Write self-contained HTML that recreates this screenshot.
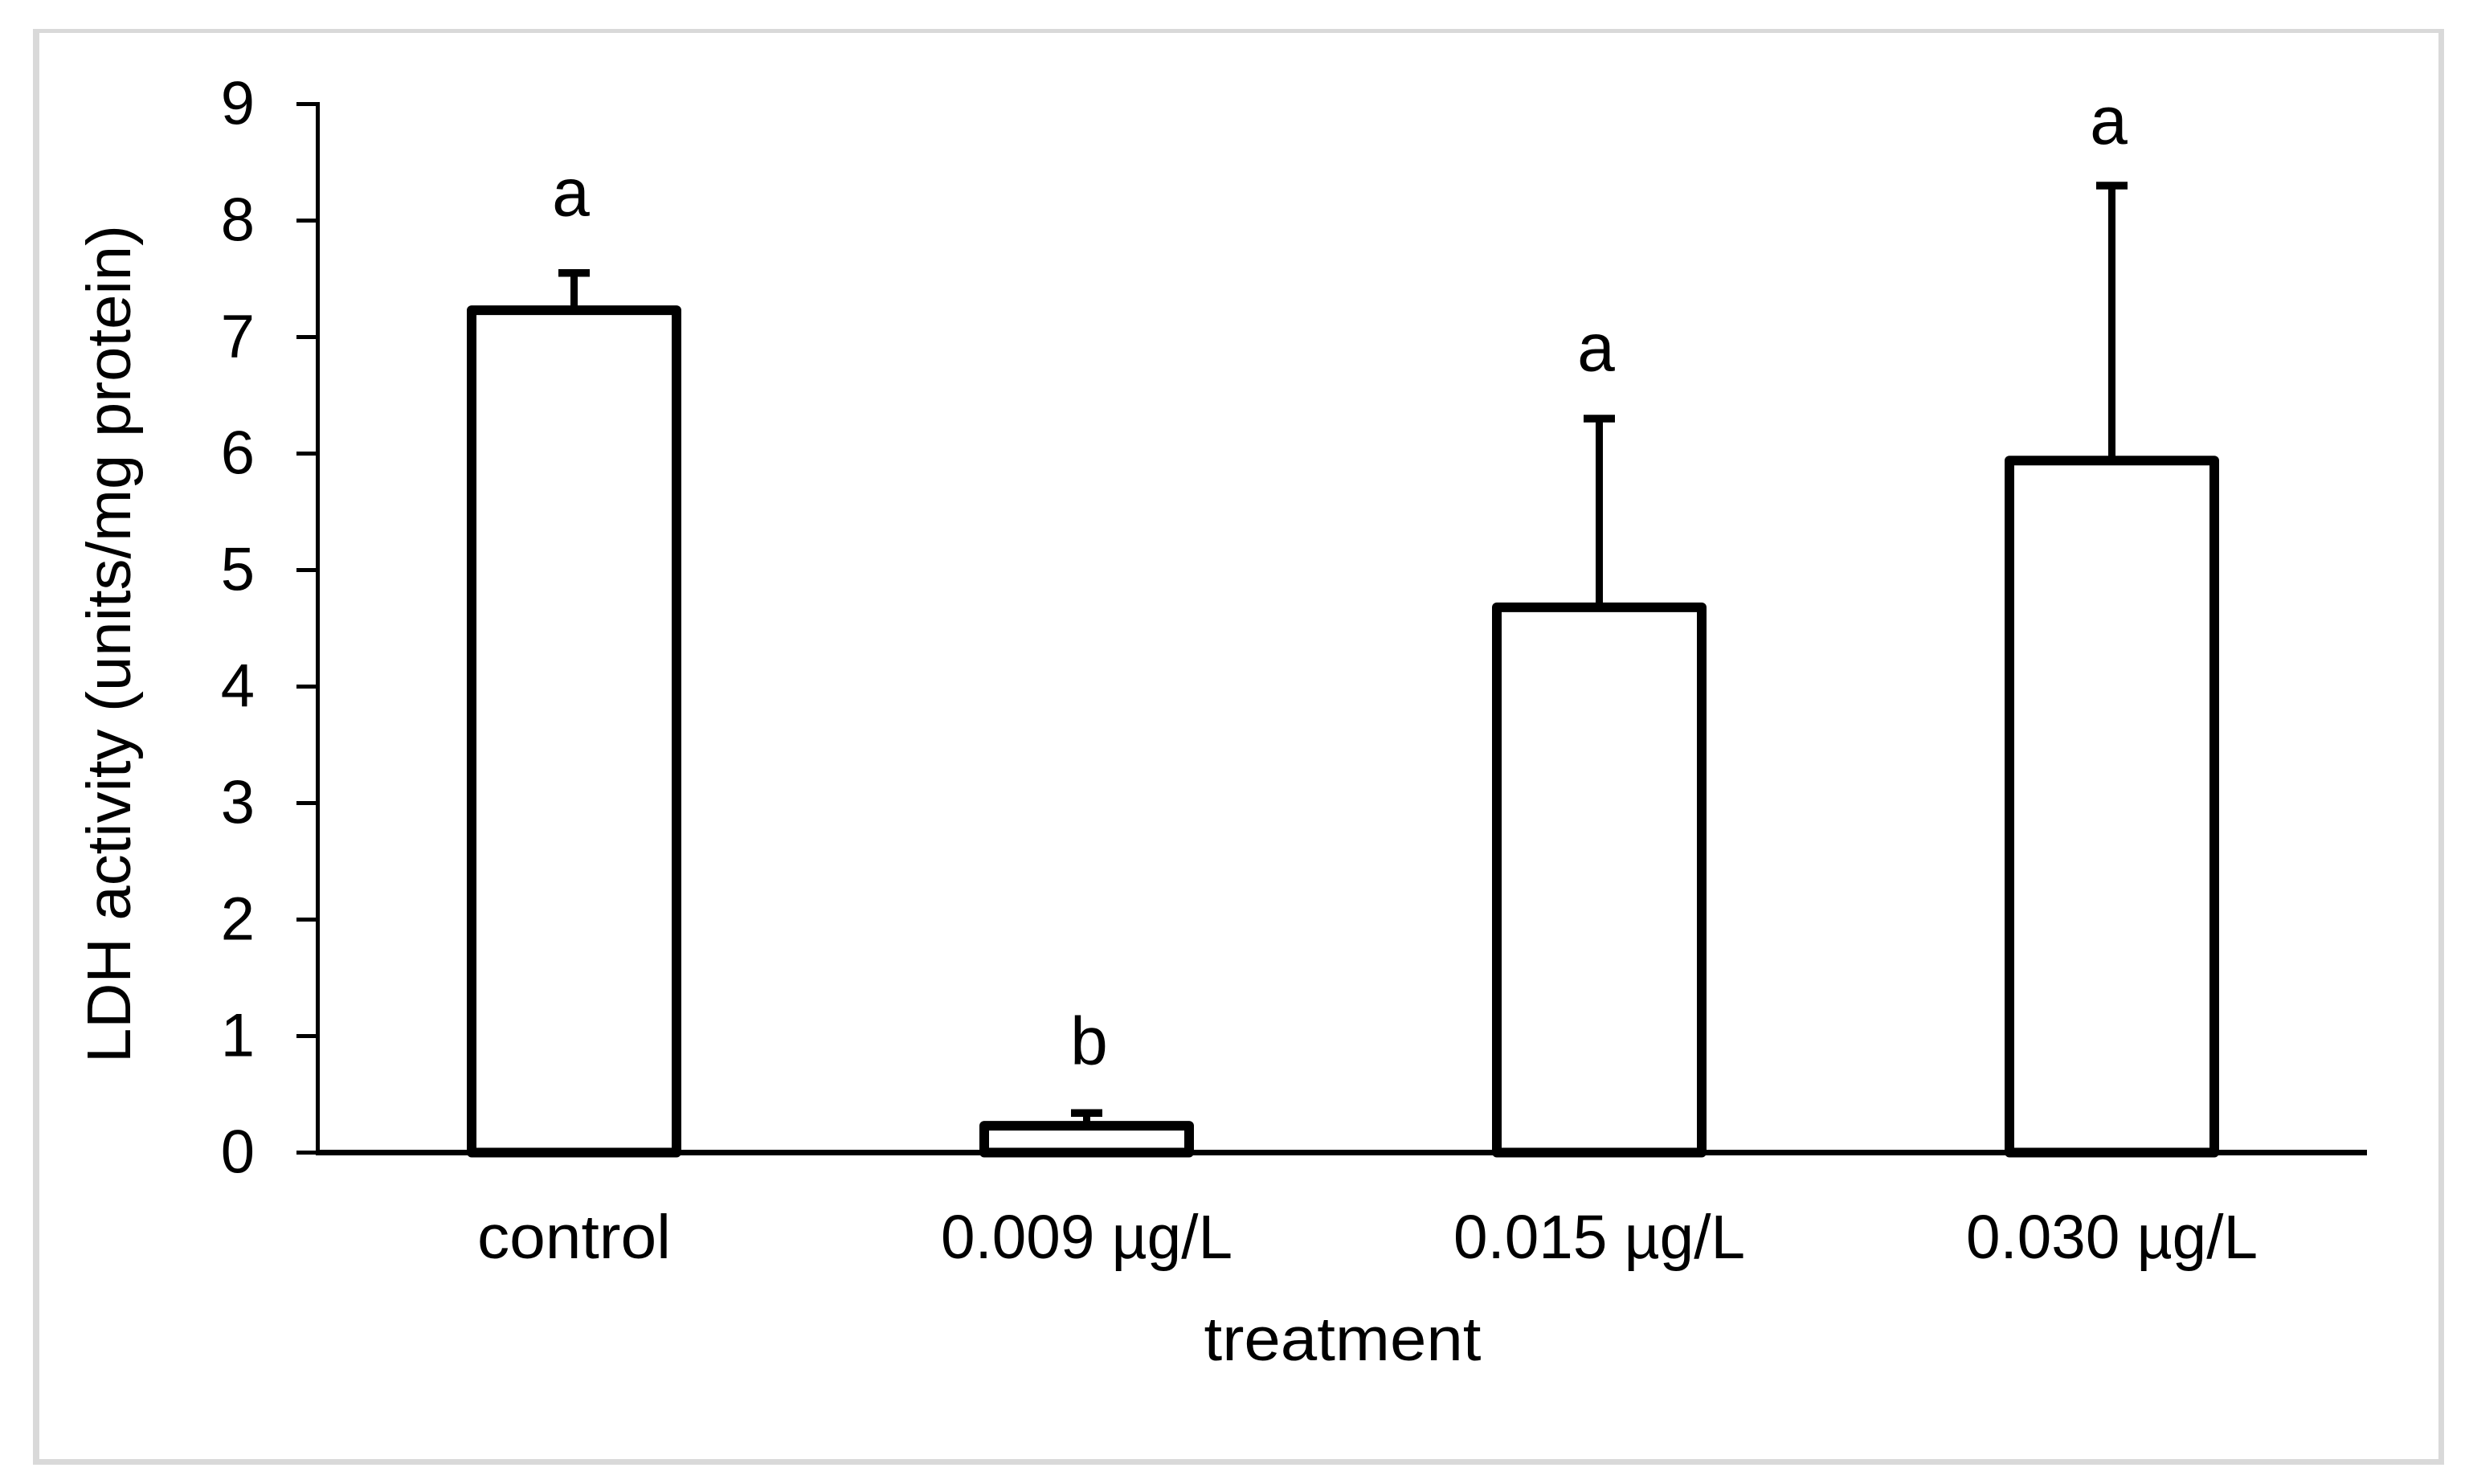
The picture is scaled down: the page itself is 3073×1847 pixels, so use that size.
<!DOCTYPE html>
<html lang="en">
<head>
<meta charset="utf-8">
<title>LDH activity by treatment</title>
<style>
  html, body { margin: 0; padding: 0; background: #ffffff; }
  svg { display: block; }
  text { font-family: "Liberation Sans", sans-serif; fill: #000000; }
</style>
</head>
<body>
<svg id="chart" xmlns="http://www.w3.org/2000/svg" width="3073" height="1847" viewBox="0 0 3073 1847">
  <rect x="0" y="0" width="3073" height="1847" fill="#ffffff"/>
  <path fill="#d9d9d9" fill-rule="evenodd" d="M41 36H3042V1823H41Z M49 41V1816H3035V41Z"/>
  <text transform="translate(162 1323) rotate(-90)" font-size="77" textLength="1043" lengthAdjust="spacingAndGlyphs">LDH activity (units/mg protein)</text>
  <text x="1671" y="1693" font-size="77" text-anchor="middle" textLength="345" lengthAdjust="spacingAndGlyphs">treatment</text>
  <g id="marks"></g>
</svg>
<script>
const categories = ["control", "0.009 µg/L", "0.015 µg/L", "0.030 µg/L"];
const means = [7.23, 0.23, 4.68, 5.94];
const errorTops = [7.55, 0.34, 6.30, 8.30];
const significance = ["a", "b", "a", "a"];
const significanceValues = [8.04, 0.76, 6.71, 8.66];
const yTicks = [0, 1, 2, 3, 4, 5, 6, 7, 8, 9];

const NS = "http://www.w3.org/2000/svg";
const marks = document.getElementById("marks");
const y = function (v) { return 1434.5 - v * 145; };
const x = function (i) { return 714.5 + i * 638; };

function shape(tag, attrs, parent) {
  const el = document.createElementNS(NS, tag);
  for (const k in attrs) el.setAttribute(k, attrs[k]);
  (parent || marks).appendChild(el);
  return el;
}

yTicks.forEach(function (t) {
  const tick = shape("line", { x1: 369, x2: 395, y1: y(t), y2: y(t), stroke: "#000", "stroke-width": 5 });
  
  
  const label = shape("text", { x: 317, y: y(t) + 25, "font-size": 76, "text-anchor": "end" });
  label.textContent = String(t);
  
  
});

const yAxis = shape("line", { x1: 395.5, x2: 395.5, y1: y(9) - 2.5, y2: y(0), stroke: "#000", "stroke-width": 5 });



const xAxis = shape("line", { x1: 393, x2: 2946, y1: y(0), y2: y(0), stroke: "#000", "stroke-width": 7 });



categories.forEach(function (c, i) {
  const cx = x(i);

  const stem = shape("line", { x1: cx, x2: cx, y1: y(errorTops[i]), y2: y(means[i]), stroke: "#000", "stroke-width": 9 });
  
  

  const cap = shape("line", { x1: cx - 19.5, x2: cx + 19.5, y1: y(errorTops[i]), y2: y(errorTops[i]), stroke: "#000", "stroke-width": 9.5 });
  
  

  const bar = shape("rect", { x: cx - 127.5, y: y(means[i]), width: 255, height: y(0) - y(means[i]), fill: "#ffffff", stroke: "#000", "stroke-width": 12, "stroke-linejoin": "round" });
  
  

  const label = shape("text", { x: cx, y: 1566, "font-size": 77, "text-anchor": "middle", textLength: i === 0 ? 241 : 363, lengthAdjust: "spacingAndGlyphs" });
  label.textContent = c;
  
  

  const sig = shape("text", { x: cx + (significance[i] === "b" ? 3 : -4), y: y(significanceValues[i]), "font-size": 84, "text-anchor": "middle" });
  sig.textContent = significance[i];
  
  
});
</script>
</body>
</html>
